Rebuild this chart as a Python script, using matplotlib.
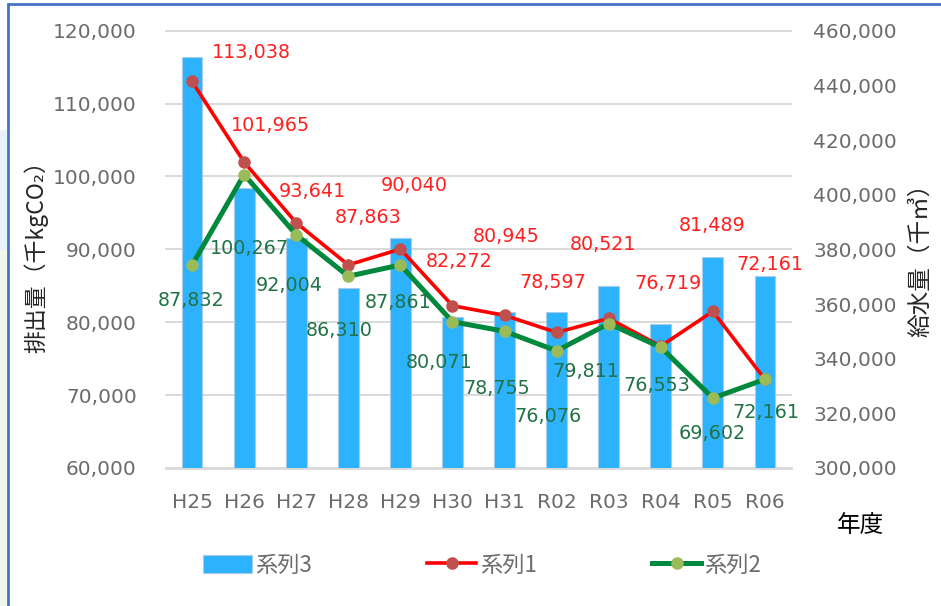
import matplotlib
matplotlib.use("Agg")
import matplotlib.pyplot as plt
from matplotlib.patches import Rectangle
from matplotlib.lines import Line2D
from matplotlib.transforms import blended_transform_factory

plt.rcParams['font.family'] = ['DejaVu Sans', 'Noto Sans CJK JP']

categories = ["H25", "H26", "H27", "H28", "H29", "H30", "H31", "R02", "R03", "R04", "R05", "R06"]
series3_water = [450500, 402300, 384000, 365700, 384000, 355400, 357200, 357200, 366700, 352700, 377100, 370400]
series1 = [113038, 101965, 93641, 87863, 90040, 82272, 80945, 78597, 80521, 76719, 81489, 72161]
series2 = [87832, 100267, 92004, 86310, 87861, 80071, 78755, 76076, 79811, 76553, 69602, 72161]

left_ticks = [60000, 70000, 80000, 90000, 100000, 110000, 120000]
right_ticks = [300000, 320000, 340000, 360000, 380000, 400000, 420000, 440000, 460000]

# label offsets in pixels (dx, dy up)
red_off = [(59, 29), (26, 37), (16, 31), (20, 47), (14, 64), (7, 44), (2, 79), (-4, 50), (-6, 74), (7, 63), (-1, 86), (5, 115)]
green_off = [(-1, -35), (5, -74), (-7, -51), (-9, -54), (-2, -38), (-13, -41), (-8, -57), (-9, -66), (-23, -48), (-4, -38), (-1, -35), (1, -33)]

W, H = 941, 606
fig = plt.figure(figsize=(W / 100, H / 100), dpi=100)
fig.patch.set_facecolor('white')

# faint background decoration left of the frame
fig.patches.append(Rectangle((0, 0), 7 / W, 1 - 250 / H, transform=fig.transFigure,
                             facecolor='#F1F8EA', edgecolor='none', zorder=0))
fig.patches.append(Rectangle((0, 1 - 250 / H), 7 / W, 120 / H, transform=fig.transFigure,
                             facecolor='#E8F1FA', edgecolor='none', zorder=0))

ax_bar = fig.add_axes([166 / W, 1 - 468 / H, (791 - 166) / W, (468 - 30.7) / H])
ax_l = ax_bar.twinx()

x = list(range(len(categories)))
tick_color = '#6B6B6B'
grid_color = '#D9D9D9'

# bars (right axis)
ax_bar.bar(x, series3_water, width=0.40, color='#2DB3FE', edgecolor='#A9CBEA', linewidth=0.8, zorder=2)
ax_bar.set_ylim(300000, 460000)
ax_bar.set_xlim(-0.5, len(categories) - 0.5)
ax_bar.set_yticks(right_ticks)
ax_bar.set_yticklabels([f"{v:,}" for v in right_ticks])
ax_bar.yaxis.tick_right()
ax_bar.yaxis.set_label_position('right')

# lines (left axis)
ax_l.set_ylim(60000, 120000)
ax_l.set_yticks(left_ticks)
ax_l.set_yticklabels([f"{v:,}" for v in left_ticks])
ax_l.yaxis.tick_left()
ax_l.yaxis.set_label_position('left')

# gridlines behind bars, at left-axis values
trans = blended_transform_factory(ax_bar.transAxes, ax_l.transData)
for v in left_ticks:
    lw = 2.0 if v == left_ticks[0] else 1.4
    ax_bar.plot([0, 1], [v, v], transform=trans, color=grid_color, lw=lw, zorder=0.5, clip_on=False)

ax_l.plot(x, series1, color='#FF0000', lw=2.6, marker='o', markersize=8,
          markerfacecolor='#C0504D', markeredgecolor='#C0504D', zorder=3)
ax_l.plot(x, series2, color='#00893C', lw=3.6, marker='o', markersize=8,
          markerfacecolor='#9BBB59', markeredgecolor='#9BBB59', zorder=4)

for i, v in enumerate(series1):
    ax_l.annotate(f"{v:,}", (x[i], v), xytext=red_off[i], textcoords='offset pixels',
                  ha='center', va='center', fontsize=13.8, color='#FF2020', zorder=6)
for i, v in enumerate(series2):
    ax_l.annotate(f"{v:,}", (x[i], v), xytext=green_off[i], textcoords='offset pixels',
                  ha='center', va='center', fontsize=13.8, color='#217346', zorder=6)

for a in (ax_bar, ax_l):
    for s in a.spines.values():
        s.set_visible(False)
    a.tick_params(axis='both', length=0, labelsize=14.5, labelcolor=tick_color)

ax_bar.set_xticks(x)
ax_bar.set_xticklabels(categories)
ax_bar.tick_params(axis='x', pad=18)
ax_l.tick_params(axis='y', pad=21)
ax_bar.tick_params(axis='y', pad=16)

cjk = ['Noto Sans CJK JP', 'DejaVu Sans']
fig.text(36 / W, 1 - 251 / H, "排出量（千kgCO₂）", rotation=90, ha='center', va='center',
         fontsize=16.5, color='#262626', family=cjk)
fig.text(921 / W, 1 - 254 / H, "給水量（千㎥）", rotation=90, ha='center', va='center',
         fontsize=17, color='#262626', family=cjk)
fig.text(861 / W, 1 - 525 / H, "年度", ha='center', va='center', fontsize=17,
         color='#000000', family=cjk)

handles = [
    Rectangle((0, 0), 1, 1, facecolor='#2DB3FE', edgecolor='#A9CBEA', linewidth=0.8),
    Line2D([], [], color='#FF0000', lw=2.6, marker='o', markersize=8,
           markerfacecolor='#C0504D', markeredgecolor='#C0504D'),
    Line2D([], [], color='#00893C', lw=3.6, marker='o', markersize=8,
           markerfacecolor='#9BBB59', markeredgecolor='#9BBB59'),
]
leg = fig.legend(handles, ["系列3", "系列1", "系列2"], loc='center',
                 bbox_to_anchor=(482 / W, 1 - 565 / H), ncol=3, frameon=False,
                 handlelength=2.2, handleheight=0.9, columnspacing=5.2,
                 handletextpad=0.15, prop={'family': cjk, 'size': 16})
for t in leg.get_texts():
    t.set_color(tick_color)

# outer border (cropped figure frame)
fig.patches.append(Rectangle((8 / W, -0.1), 1.2, 1.1 - 4 / H, transform=fig.transFigure,
                             fill=False, edgecolor='#4472C4', linewidth=2, zorder=10))

fig.savefig("out.png", dpi=100, facecolor='white')
